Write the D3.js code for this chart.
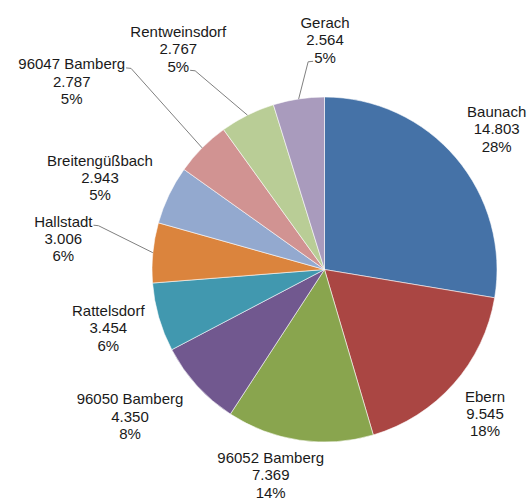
<!DOCTYPE html>
<html>
<head>
<meta charset="utf-8">
<script src="https://cdn.jsdelivr.net/npm/d3@7/dist/d3.min.js"></script>
<style>
  html, body { margin: 0; padding: 0; background: #fff; }
  text { font-family: "Liberation Sans", Arial, sans-serif; }
</style>
</head>
<body>
<svg id="chart" width="531" height="500"></svg>
<script>
// ---- data ----
const categories = ["Baunach", "Ebern", "96052 Bamberg", "96050 Bamberg", "Rattelsdorf",
  "Hallstadt", "Breitengüßbach", "96047 Bamberg", "Rentweinsdorf", "Gerach"];
const values = [14803, 9545, 7369, 4350, 3454, 3006, 2943, 2787, 2767, 2564];
const valueLabels = ["14.803", "9.545", "7.369", "4.350", "3.454", "3.006", "2.943", "2.787", "2.767", "2.564"];
const percentLabels = ["28%", "18%", "14%", "8%", "6%", "6%", "5%", "5%", "5%", "5%"];
const colors = ["#4572A7", "#AA4643", "#89A54E", "#71588F", "#4198AF",
  "#DB843D", "#93A9CF", "#D19392", "#B9CD96", "#A99BBD"];

// ---- layout (label block centres relative to pie centre) ----
const cx = 324.5, cy = 269.5, R = 172.5;
const labelOffsets = [
  [172.2, -140.5], [160.5, 144], [-53.8, 205.5], [-194.5, 146.8], [-216.2, 58.5],
  [-261.2, -31], [-224.5, -92], [-252.8, -188.3], [-146.2, -220.5], [0.5, -229.5]
];
// leader: [line index, side ('r' right end / 'l' left end)] or null
const leaders = [null, null, null, null, null, [0, "r"], null, [0, "r"], [2, "r"], [2, "l"]];
const lineGap = 17.3, fontSize = 15;

const svg = d3.select("#chart");
const pie = d3.pie().sort(null).value(d => d.value).startAngle(0).endAngle(2 * Math.PI);
const data = categories.map((c, i) => ({ name: c, value: values[i], i }));
const arcs = pie(data);
const arc = d3.arc().innerRadius(0).outerRadius(R);

const g = svg.append("g").attr("transform", `translate(${cx},${cy})`);
g.selectAll("path.slice").data(arcs).enter().append("path")
  .attr("class", "slice")
  .attr("d", arc)
  .attr("fill", d => colors[d.data.i])
  .attr("stroke", "#ffffff")
  .attr("stroke-width", 0.7)
  .attr("stroke-opacity", 0.8);

const labelG = g.append("g");
arcs.forEach((a, i) => {
  const [ox, oy] = labelOffsets[i];
  const lines = [categories[i], valueLabels[i], percentLabels[i]];
  const t = labelG.append("text")
    .attr("text-anchor", "middle")
    .attr("font-size", fontSize)
    .attr("fill", "#1a1a1a");
  const tspans = lines.map((s, k) => t.append("tspan")
    .attr("x", ox)
    .attr("y", oy + (k - 1) * lineGap + fontSize * 0.36)
    .text(s));
  const ld = leaders[i];
  if (ld) {
    const [li, side] = ld;
    const w = tspans[li].node().getComputedTextLength();
    const ly = oy + (li - 1) * lineGap + 4;
    const sx = side === "r" ? ox + w / 2 + 1 : ox - w / 2 - 1;
    const ex = side === "r" ? sx + 5 : sx - 5;
    const mid = (a.startAngle + a.endAngle) / 2;
    const px = Math.sin(mid) * R, py = -Math.cos(mid) * R;
    labelG.insert("path", "text")
      .attr("d", d3.line()([[sx, ly], [ex, ly + 0.5], [px, py]]))
      .attr("fill", "none")
      .attr("stroke", "#808080")
      .attr("stroke-width", 1);
  }
});
</script>
</body>
</html>
